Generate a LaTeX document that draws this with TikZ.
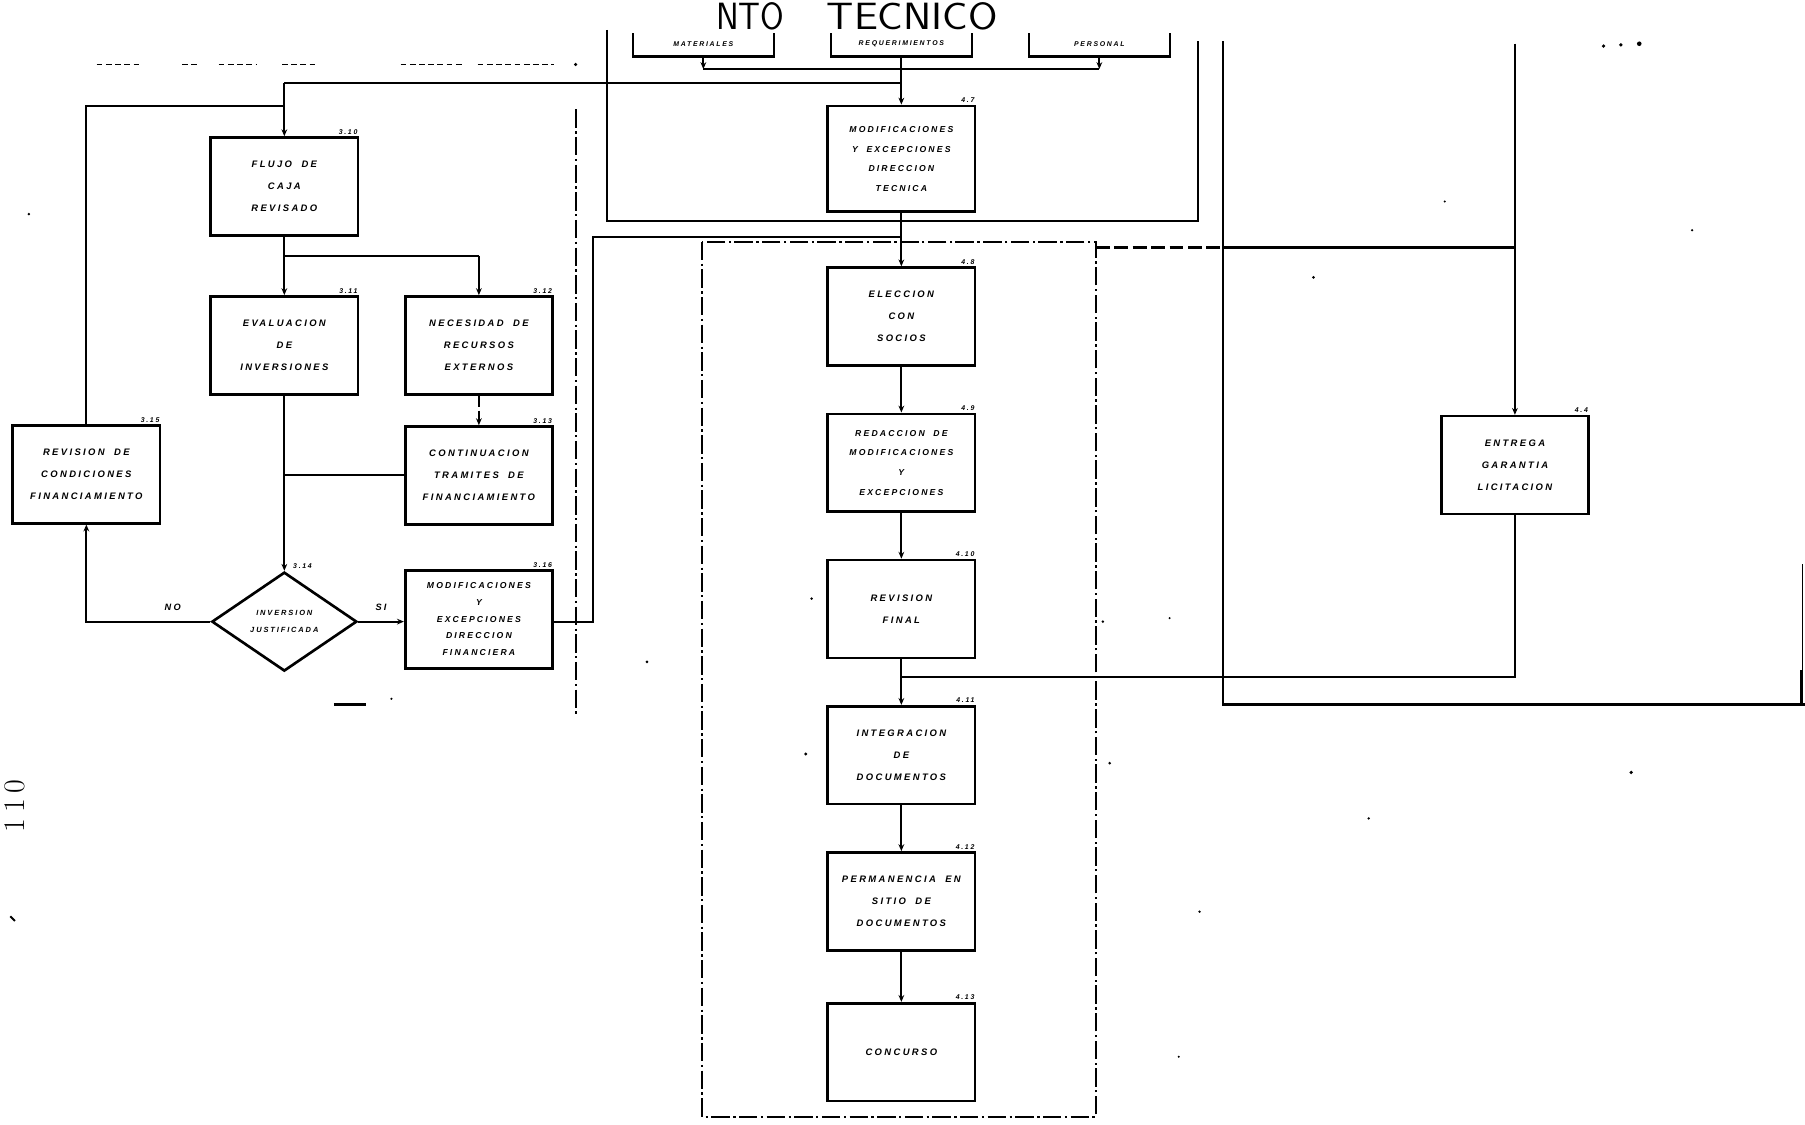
\documentclass[tikz,border=0pt]{standalone}
\usepackage{fontspec}
\newfontfamily\hand{Liberation Sans}[LetterSpace=25]
\usetikzlibrary{shapes.geometric,arrows.meta}
\begin{document}
\begin{tikzpicture}[x=1pt,y=-1pt]
\tikzset{
 box/.style={draw, line width=2.3pt, minimum width=128pt, minimum height=85pt, align=center,
   font=\hand\bfseries\itshape\fontsize{8.2}{19}\selectfont, inner sep=2pt},
 box5/.style={box, font=\hand\bfseries\itshape\fontsize{7.5}{14.5}\selectfont},
 box4/.style={box, font=\hand\bfseries\itshape\fontsize{7.5}{17}\selectfont},
 topbox/.style={minimum width=122pt, minimum height=22pt, inner sep=1pt,
   font=\hand\bfseries\itshape\fontsize{6}{7}\selectfont},
 ln/.style={line width=1.8pt},
 arr/.style={ln, -{Stealth[length=6pt,width=5pt]}},
 num/.style={font=\hand\bfseries\itshape\fontsize{6}{6}\selectfont, anchor=south east, inner sep=1.5pt},
 lbl/.style={font=\hand\bfseries\itshape\fontsize{8}{8}\selectfont, inner sep=1pt},
 dd/.style={line width=1.6pt, dash pattern=on 16pt off 3pt on 2pt off 3pt},
 smark/.style={line width=1.1pt, dash pattern=on 5pt off 3pt},
 head/.style={anchor=base west, font=\sffamily\fontsize{33}{33}\selectfont, inner sep=0pt, text depth=0pt},
}
\useasboundingbox (0,0) rectangle (1568,977);
\clip (0,0) rectangle (1568,977);
\fill[white] (0,0) rectangle (1568,977);

% heading
\node[head] (h1) at (622,26) {\scalebox{0.9}[1]{NTO}};
\node[head] (h2) at (718,26) {\scalebox{1.12}[1]{TECNICO}};

% top boxes (open at top)
\node[topbox] (mat) at (611,38) {MATERIALES};
\node[topbox] (req) at (783,38) {REQUERIMIENTOS};
\node[topbox] (pers) at (955,38) {PERSONAL};
\foreach \b in {mat,req,pers}{
  \draw[line width=2.2pt] ([yshift=-2pt]\b.north west) -- (\b.south west) -- (\b.south east) -- ([yshift=-2pt]\b.north east);
}

% faint header row
\foreach \a/\b in {84/122,158/172,190/223,245/276,348/403,415/481}{
  \draw[smark] (\a,56) -- (\b,56);
}
\fill (500,56) circle (1.5pt);

% left column
\node[box] (flujo) at (247,162) {FLUJO\quad DE\\CAJA\\REVISADO};
\node[box] (eval) at (247,300) {EVALUACION\\DE\\INVERSIONES};
\node[box] (neces) at (416,300) {NECESIDAD\quad DE\\RECURSOS\\EXTERNOS};
\node[box] (cont) at (416,413) {CONTINUACION\\TRAMITES\quad DE\\FINANCIAMIENTO};
\node[box] (rev) at (75,412) {REVISION\quad DE\\CONDICIONES\\FINANCIAMIENTO};
\node[draw, diamond, line width=2.3pt, minimum width=126pt, minimum height=86pt, aspect=1.47, inner sep=0pt,
  align=center, font=\hand\bfseries\itshape\fontsize{6.5}{15}\selectfont] (dia) at (247,540) {INVERSION\\JUSTIFICADA};
\node[box5] (moddf) at (416,538) {MODIFICACIONES\\Y\\EXCEPCIONES\\DIRECCION\\FINANCIERA};

% middle column
\node[box4, minimum height=92pt] (moddt) at (783,138) {MODIFICACIONES\\Y\quad EXCEPCIONES\\DIRECCION\\TECNICA};
\node[box] (elec) at (783,275) {ELECCION\\CON\\SOCIOS};
\node[box4] (red) at (783,402) {REDACCION\quad DE\\MODIFICACIONES\\Y\\EXCEPCIONES};
\node[box] (revf) at (783,529) {REVISION\\FINAL};
\node[box] (integ) at (783,656) {INTEGRACION\\DE\\DOCUMENTOS};
\node[box] (perm) at (783,783) {PERMANENCIA\quad EN\\SITIO\quad DE\\DOCUMENTOS};
\node[box] (conc) at (783,914) {CONCURSO};

% right
\node[box] (entrega) at (1316,404) {ENTREGA\\GARANTIA\\LICITACION};

% numbers
\node[num] (nflujo) at (flujo.north east) {3.10};
\node[num] (neval) at (eval.north east) {3.11};
\node[num] (nneces) at (neces.north east) {3.12};
\node[num] (ncont) at (cont.north east) {3.13};
\node[num] (nrev) at (rev.north east) {3.15};
\node[num, anchor=south west] (ndia) at ([xshift=6pt]dia.north) {3.14};
\node[num] (nmoddf) at (moddf.north east) {3.16};
\node[num] (nmoddt) at (moddt.north east) {4.7};
\node[num] (nelec) at (elec.north east) {4.8};
\node[num] (nred) at (red.north east) {4.9};
\node[num] (nrevf) at (revf.north east) {4.10};
\node[num] (ninteg) at (integ.north east) {4.11};
\node[num] (nperm) at (perm.north east) {4.12};
\node[num] (nconc) at (conc.north east) {4.13};
\node[num] (nent) at (entrega.north east) {4.4};

% coordinates
\coordinate (t1) at (611,60);
\coordinate (t2) at (783,60);
\coordinate (t3) at (955,60);
\coordinate (c7) at (247,72);
\coordinate (c8) at (783,72);
\coordinate (c5) at (75,92);
\coordinate (c6) at (247,92);
\coordinate (j1) at (247,222);
\coordinate (j2) at (416,222);
\coordinate (j3) at (247,413);
\coordinate (c1) at (75,540);
\coordinate (c2) at (515,540);
\coordinate (c3) at (515,206);
\coordinate (c4) at (783,206);
\coordinate (m1) at (783,588);
\coordinate (m2) at (1316,588);
\coordinate (m3) at (1316,38);
\coordinate (m4) at (952,215);
\coordinate (m5) at (1062,215);
\coordinate (m6) at (1316,215);

% top connectors
\draw[arr] (mat.south) -- (t1);
\draw[arr] (pers.south) -- (t3);
\draw[ln] (req.south) -- (t2);
\draw[ln] (t1) -- (t3);
\draw[arr] (t2) -- (moddt.north);
\draw[ln] (c8) -- (c7);
\draw[arr] (c7) -- (flujo.north);
\draw[ln] (rev.north) -- (c5) -- (c6);

% left connectors
\draw[ln] (flujo.south) -- (j1) -- (j2);
\draw[arr] (j1) -- (eval.north);
\draw[arr] (j2) -- (neces.north);
\draw[arr, dash pattern=on 10pt off 3pt] (neces.south) -- (cont.north);
\draw[arr] (eval.south) -- (dia.north);
\draw[ln] (cont.west) -- (j3);
\draw[arr] (dia.west) -- (c1) -- (rev.south);
\node[lbl] (no) at (150,528) {NO};
\draw[arr] (dia.east) -- (dia.east -| moddf.west);
\node[lbl] (si) at (331,528) {SI};
\draw[ln] (moddf.east |- c2) -- (c2) -- (c3) -- (c4);

% middle connectors
\draw[arr] (moddt.south) -- (elec.north);
\draw[arr] (elec.south) -- (red.north);
\draw[arr] (red.south) -- (revf.north);
\draw[arr] (revf.south) -- (integ.north);
\draw[arr] (integ.south) -- (perm.north);
\draw[arr] (perm.south) -- (conc.north);
\draw[ln] (entrega.south) -- (m2) -- (m1);
\draw[arr] (m3) -- (entrega.north);
\draw[ln, dash pattern=on 12pt off 4pt] (m4) -- (m5);
\draw[ln] (m5) -- (m6);

% frames
\draw[ln] (527,26) -- (527,192) -- (1041,192) -- (1041,36);
\draw[dd] (610,210) rectangle (952,970);
\draw[dd] (500,95) -- (500,620);
\draw[ln] (1062,36) -- (1062,612) -- (1568,612);
\draw[line width=0.8pt] (1566,490) -- (1566,585);
\draw[line width=3pt] (1565,582) -- (1565,612);

% stray marks
\draw[line width=2pt] (290,612) -- (318,612);
\fill (1393,40) circle (1.6pt) (1408,39) circle (1.6pt) (1424,38) circle (2pt);
\fill (1141,241) circle (1.3pt) (1470,200) circle (1.1pt) (562,575) circle (1.3pt)
      (958,540) circle (1.2pt) (964,663) circle (1.3pt) (1417,671) circle (1.6pt)
      (1189,711) circle (1.1pt) (1042,792) circle (1.1pt) (1024,918) circle (1pt)
      (1016,537) circle (1pt) (705,520) circle (1.2pt) (700,655) circle (1.4pt)
      (1255,175) circle (1pt) (25,186) circle (1.2pt) (340,607) circle (1pt);

% page number
\node[rotate=90, anchor=base, font=\fontsize{26}{26}\selectfont, inner sep=0pt, text depth=0pt] (pg) at (21,700) {1\hspace{5pt}1\hspace{5pt}0};
\draw[line width=1.6pt] (9,796) -- (13,800);
\end{tikzpicture}
\end{document}
